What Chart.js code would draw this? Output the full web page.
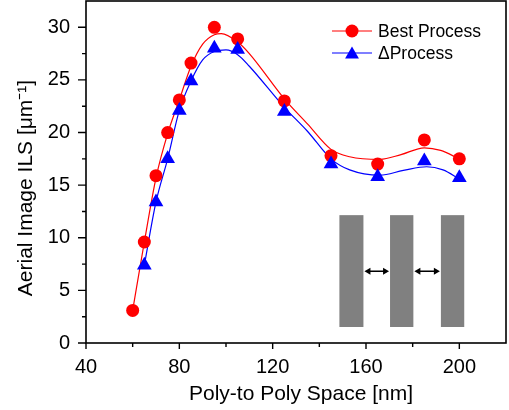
<!DOCTYPE html>
<html>
<head>
<meta charset="utf-8">
<script src="https://cdn.jsdelivr.net/npm/chart.js@4/dist/chart.umd.min.js"></script>
<style>
  html, body { margin: 0; padding: 0; background: #fff; }
  #wrap { width: 509px; height: 410px; }
</style>
</head>
<body>
<div id="wrap"><canvas id="c" width="509" height="410"></canvas></div>
<script>
// ---- data ----
const xBest  = [60, 65, 70, 75, 80, 85, 95, 105, 125, 145, 165, 185, 200];
const best   = [3.1, 9.6, 15.9, 20.0, 23.1, 26.6, 30.0, 28.9, 23.0, 17.8, 17.0, 19.3, 17.5];
const xDelta = [65, 70, 75, 80, 85, 95, 105, 125, 145, 165, 185, 200];
const delta  = [7.4, 13.4, 17.5, 22.1, 24.9, 28.0, 27.9, 22.0, 17.0, 15.8, 17.3, 15.7];

// smoothed fit curves as drawn in the reference
const xBestCurve  = [60, 65, 70, 75, 80, 85, 90, 95, 98, 105, 110, 125, 135, 145, 153, 166, 175, 185, 192, 200];
const bestCurve   = [3.1, 9.6, 15.7, 19.9, 23.1, 26.3, 28.4, 29.3, 29.4, 28.6, 27.5, 23.2, 20.8, 18.4, 17.7, 17.45, 17.9, 18.55, 18.3, 17.5];
const xDeltaCurve = [65, 70, 75, 80, 85, 90, 95, 100, 105, 110, 125, 135, 145, 153, 166, 176, 186, 193, 200];
const deltaCurve  = [7.4, 13.4, 17.5, 22.1, 24.9, 26.9, 27.7, 27.85, 27.4, 26.3, 22.4, 20.1, 17.5, 16.45, 15.95, 16.4, 16.75, 16.45, 15.6];

const xTicks = [40, 80, 120, 160, 200];
const yTicks = [0, 5, 10, 15, 20, 25, 30];
const seriesNames = ['Best Process', '\u0394Process'];
const xTitle = 'Poly-to Poly Space [nm]';
const yTitle = 'Aerial Image ILS [\u03bcm\u207b\u00b9]';

const FONT = "'Liberation Sans', Arial, Helvetica, sans-serif";
const RED = '#ff0000', BLUE = '#0000ff';

const zip = (xs, ys) => xs.map((x, i) => ({ x, y: ys[i] }));

const decorPlugin = {
  id: 'decor',
  beforeDatasetsDraw(chart) {
    const { ctx, chartArea: a, scales: { x, y } } = chart;
    // inset sketch (three poly lines with spacing arrows), placed in data units
    const bars = [[148.6, 158.9], [170.3, 180.3], [192.1, 202.1]];
    const yb0 = 1.52, yb1 = 12.15;
    ctx.save();
    ctx.fillStyle = '#808080';
    bars.forEach(([l, r]) => {
      const px0 = x.getPixelForValue(l), px1 = x.getPixelForValue(r);
      const py0 = y.getPixelForValue(yb1), py1 = y.getPixelForValue(yb0);
      ctx.fillRect(px0, py0, px1 - px0, py1 - py0);
    });
    const ay = y.getPixelForValue(6.82);
    ctx.strokeStyle = '#000'; ctx.fillStyle = '#000'; ctx.lineWidth = 1.5;
    for (let i = 0; i < bars.length - 1; i++) {
      const s = x.getPixelForValue(bars[i][1]) + 1, e = x.getPixelForValue(bars[i + 1][0]) - 1;
      ctx.beginPath(); ctx.moveTo(s + 4, ay); ctx.lineTo(e - 4, ay); ctx.stroke();
      ctx.beginPath(); ctx.moveTo(s, ay); ctx.lineTo(s + 6, ay - 3.5); ctx.lineTo(s + 6, ay + 3.5); ctx.closePath(); ctx.fill();
      ctx.beginPath(); ctx.moveTo(e, ay); ctx.lineTo(e - 6, ay - 3.5); ctx.lineTo(e - 6, ay + 3.5); ctx.closePath(); ctx.fill();
    }
    ctx.restore();
  },
  afterDraw(chart) {
    const { ctx, chartArea: a, scales: { x, y } } = chart;
    ctx.save();
    // frame
    ctx.strokeStyle = '#000';
    ctx.lineWidth = 1.6;
    ctx.strokeRect(a.left, a.top, a.right - a.left, a.bottom - a.top);
    // ticks
    ctx.lineWidth = 1.4;
    ctx.beginPath();
    for (let v = 0; v <= 30.01; v += 2.5) {
      const py = y.getPixelForValue(v);
      const len = (Math.abs(v % 5) < 0.01) ? 8 : 4;
      ctx.moveTo(a.left, py); ctx.lineTo(a.left - len, py);
    }
    for (let v = 40; v <= 200.01; v += 20) {
      const px = x.getPixelForValue(v);
      const len = (v % 40 === 0) ? 6 : 4;
      ctx.moveTo(px, a.bottom); ctx.lineTo(px, a.bottom + len);
    }
    ctx.stroke();

    // axis titles
    ctx.fillStyle = '#000';
    ctx.font = '21px ' + FONT;
    ctx.textAlign = 'center';
    ctx.textBaseline = 'alphabetic';
    ctx.fillText(xTitle, (a.left + a.right) / 2 + 5, 400);
    ctx.save();
    ctx.translate(32, (a.top + a.bottom) / 2 + 16);
    ctx.rotate(-Math.PI / 2);
    ctx.fillText(yTitle, 0, 0);
    ctx.restore();

    // legend
    const lx0 = a.right - 174, lx1 = a.right - 134, lmid = (lx0 + lx1) / 2;
    const rows = [a.top + 30, a.top + 52];
    const cols = [RED, BLUE];
    ctx.font = '17.5px ' + FONT;
    ctx.textAlign = 'left';
    ctx.textBaseline = 'middle';
    rows.forEach((ry, i) => {
      ctx.strokeStyle = cols[i]; ctx.fillStyle = cols[i]; ctx.lineWidth = 1.2;
      ctx.beginPath(); ctx.moveTo(lx0, ry); ctx.lineTo(lx1, ry); ctx.stroke();
      ctx.beginPath();
      if (i === 0) {
        ctx.arc(lmid, ry, 6.5, 0, Math.PI * 2);
      } else {
        const r = 8;
        ctx.moveTo(lmid, ry - r + 1.5);
        ctx.lineTo(lmid + r * 0.866, ry + r / 2 + 1.5);
        ctx.lineTo(lmid - r * 0.866, ry + r / 2 + 1.5);
        ctx.closePath();
      }
      ctx.fill();
      ctx.fillStyle = '#000';
      ctx.fillText(seriesNames[i], a.right - 128, ry + 1);
    });
    ctx.restore();
  }
};

new Chart(document.getElementById('c'), {
  type: 'scatter',
  data: {
    datasets: [
      { label: seriesNames[0] + ' fit', data: zip(xBestCurve, bestCurve), showLine: true,
        borderColor: RED, borderWidth: 1.2, pointRadius: 0, fill: false,
        cubicInterpolationMode: 'monotone', order: 2 },
      { label: seriesNames[1] + ' fit', data: zip(xDeltaCurve, deltaCurve), showLine: true,
        borderColor: BLUE, borderWidth: 1.2, pointRadius: 0, fill: false,
        cubicInterpolationMode: 'monotone', order: 2 },
      { label: seriesNames[0], data: zip(xBest, best), showLine: false,
        pointStyle: 'circle', pointRadius: 6.5, pointBackgroundColor: RED,
        pointBorderColor: RED, pointBorderWidth: 0, order: 1 },
      { label: seriesNames[1], data: zip(xDelta, delta), showLine: false,
        pointStyle: 'triangle', pointRadius: 8.5, pointBackgroundColor: BLUE,
        pointBorderColor: BLUE, pointBorderWidth: 0, order: 0 }
    ]
  },
  options: {
    responsive: false,
    animation: false,
    devicePixelRatio: 1,
    layout: { autoPadding: false, padding: { top: 1, right: 3, left: 0, bottom: 0 } },
    plugins: { legend: { display: false }, title: { display: false }, tooltip: { enabled: false } },
    scales: {
      x: {
        type: 'linear', min: 40, max: 220,
        grid: { display: false, drawTicks: false },
        border: { display: false },
        afterFit(s) { s.height = 67; s.paddingLeft = 0; s.paddingRight = 0; s.paddingTop = 0; s.paddingBottom = 0; },
        afterBuildTicks(s) { s.ticks = xTicks.map(v => ({ value: v })); },
        ticks: { padding: 12, color: '#000', font: { family: FONT, size: 20 }, maxRotation: 0, autoSkip: false }
      },
      y: {
        type: 'linear', min: 0, max: 32.5,
        grid: { display: false, drawTicks: false },
        border: { display: false },
        afterFit(s) { s.width = 86; s.paddingLeft = 0; s.paddingRight = 0; s.paddingTop = 0; s.paddingBottom = 0; },
        afterBuildTicks(s) { s.ticks = yTicks.map(v => ({ value: v })); },
        ticks: { padding: 16, color: '#000', font: { family: FONT, size: 20 }, autoSkip: false }
      }
    }
  },
  plugins: [decorPlugin]
});
</script>
</body>
</html>
